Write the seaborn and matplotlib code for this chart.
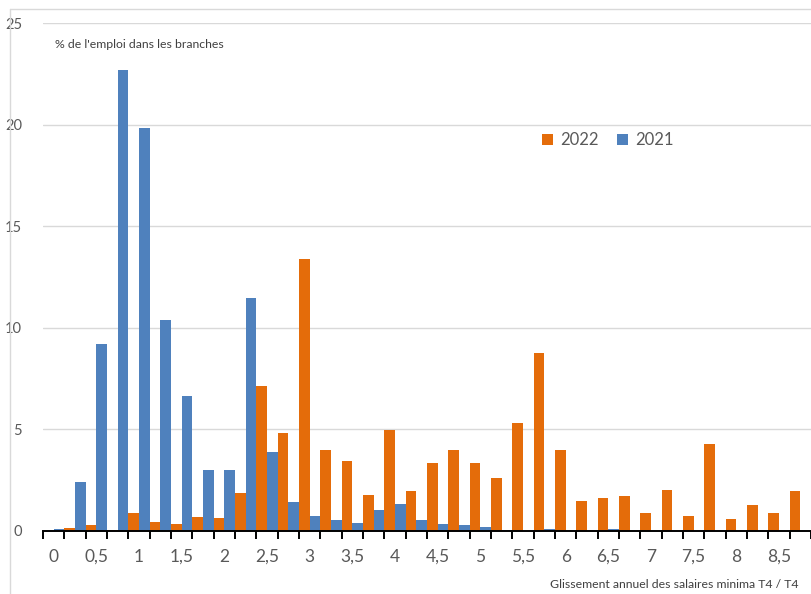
import matplotlib
matplotlib.use("Agg")
import matplotlib.pyplot as plt
import seaborn as sns
import pandas as pd
from matplotlib.lines import Line2D
from matplotlib.patches import Patch

# Annual wage-floor drift classes (%), one class every 0.25 point
categories = [0, 0.25, 0.5, 0.75, 1, 1.25, 1.5, 1.75, 2, 2.25, 2.5, 2.75,
              3, 3.25, 3.5, 3.75, 4, 4.25, 4.5, 4.75, 5, 5.25, 5.5, 5.75,
              6, 6.25, 6.5, 6.75, 7, 7.25, 7.5, 7.75, 8, 8.25, 8.5, 8.75]

# Share of branch employment (%) in each class
values_2022 = [0, 0.15, 0.27, 0.05, 0.86, 0.43, 0.31, 0.68, 0.63, 1.87, 7.12, 4.8,
               13.39, 3.98, 3.45, 1.74, 4.98, 1.97, 3.34, 3.98, 3.34, 2.6, 5.31, 8.76,
               4.0, 1.45, 1.61, 1.69, 0.89, 1.99, 0.74, 4.26, 0.58, 1.27, 0.86, 1.94]
values_2021 = [0.1, 2.39, 9.19, 22.72, 19.86, 10.37, 6.64, 2.99, 2.98, 11.47, 3.9, 1.42,
               0.71, 0.53, 0.36, 1.02, 1.33, 0.54, 0.33, 0.28, 0.18, 0.03, 0, 0.07,
               0, 0, 0.08, 0, 0, 0, 0, 0, 0, 0, 0, 0]

tick_labels = ["0", "0,5", "1", "1,5", "2", "2,5", "3", "3,5", "4", "4,5",
               "5", "5,5", "6", "6,5", "7", "7,5", "8", "8,5"]
y_ticks = [0, 5, 10, 15, 20, 25]

series_names = ["2022", "2021"]
colors = {"2022": "#E46C0A", "2021": "#4F81BD"}

cat_keys = [str(c) for c in categories]
df = pd.DataFrame({
    "classe": cat_keys * 2,
    "part": values_2022 + values_2021,
    "annee": ["2022"] * len(categories) + ["2021"] * len(categories),
})

sns.set_theme(style="white")
plt.rcParams["font.family"] = ["Lato", "DejaVu Sans"]

W, H = 811, 594
fig = plt.figure(figsize=(W / 100, H / 100), dpi=100)
left, right, bottom, top = 43, 811, 530.7, 23.3
ax = fig.add_axes([left / W, 1 - bottom / H, (right - left) / W, (bottom - top) / H])

sns.barplot(data=df, x="classe", y="part", hue="annee", order=cat_keys,
            hue_order=series_names, palette=colors, width=1.0, dodge=True,
            linewidth=0, saturation=1, legend=False, ax=ax)

n = len(categories)
ax.set_xlim(-0.5, -0.5 + (right - left) / 21.53)
ax.set_ylim(0, 25)

# tick marks between classes, labels on every other class
ax.set_xticks([i - 0.5 for i in range(n + 1)])
ax.set_xticklabels([])
ax.set_xticks(list(range(0, n, 2)), minor=True)
ax.set_xticklabels(tick_labels, minor=True)
ax.tick_params(axis="x", which="major", direction="out", length=5.5, width=1.4,
               color="black", bottom=True)
ax.tick_params(axis="x", which="minor", length=0, pad=13, labelsize=12.5,
               labelcolor="#595959")
ax.set_yticks(y_ticks)
ax.set_yticklabels([str(v) for v in y_ticks])
ax.tick_params(axis="y", length=0, pad=15, labelsize=10.5, labelcolor="#595959")

ax.grid(axis="y", color="#D9D9D9", linewidth=1)
ax.set_axisbelow(True)
for s in ["top", "right", "left"]:
    ax.spines[s].set_visible(False)
ax.spines["bottom"].set_color("black")
ax.spines["bottom"].set_linewidth(1.4)
ax.set_xlabel("")
ax.set_ylabel("")

fig.text(55 / W, 1 - 45 / H, "% de l'emploi dans les branches", fontsize=8.8,
         color="#404040", ha="left", va="center")
fig.text(799 / W, 1 - 584 / H, "Glissement annuel des salaires minima T4 / T4",
         fontsize=8.8, color="#404040", ha="right", va="center")

handles = [Patch(facecolor=colors[s], edgecolor="none") for s in series_names]
fig.legend(handles, series_names, loc="center", ncol=2, frameon=False,
           bbox_to_anchor=(608 / W, 1 - 140 / H), bbox_transform=fig.transFigure,
           fontsize=12, labelcolor="#595959", handlelength=0.65, handleheight=0.65,
           handletextpad=0.45, columnspacing=1.1)

# chart frame
fig.add_artist(Line2D([10 / W, 1], [1 - 9 / H, 1 - 9 / H], transform=fig.transFigure,
                      color="#D9D9D9", linewidth=1))
fig.add_artist(Line2D([10 / W, 10 / W], [0, 1 - 9 / H], transform=fig.transFigure,
                      color="#D9D9D9", linewidth=1))

fig.savefig("out.png", dpi=100, facecolor="white")
